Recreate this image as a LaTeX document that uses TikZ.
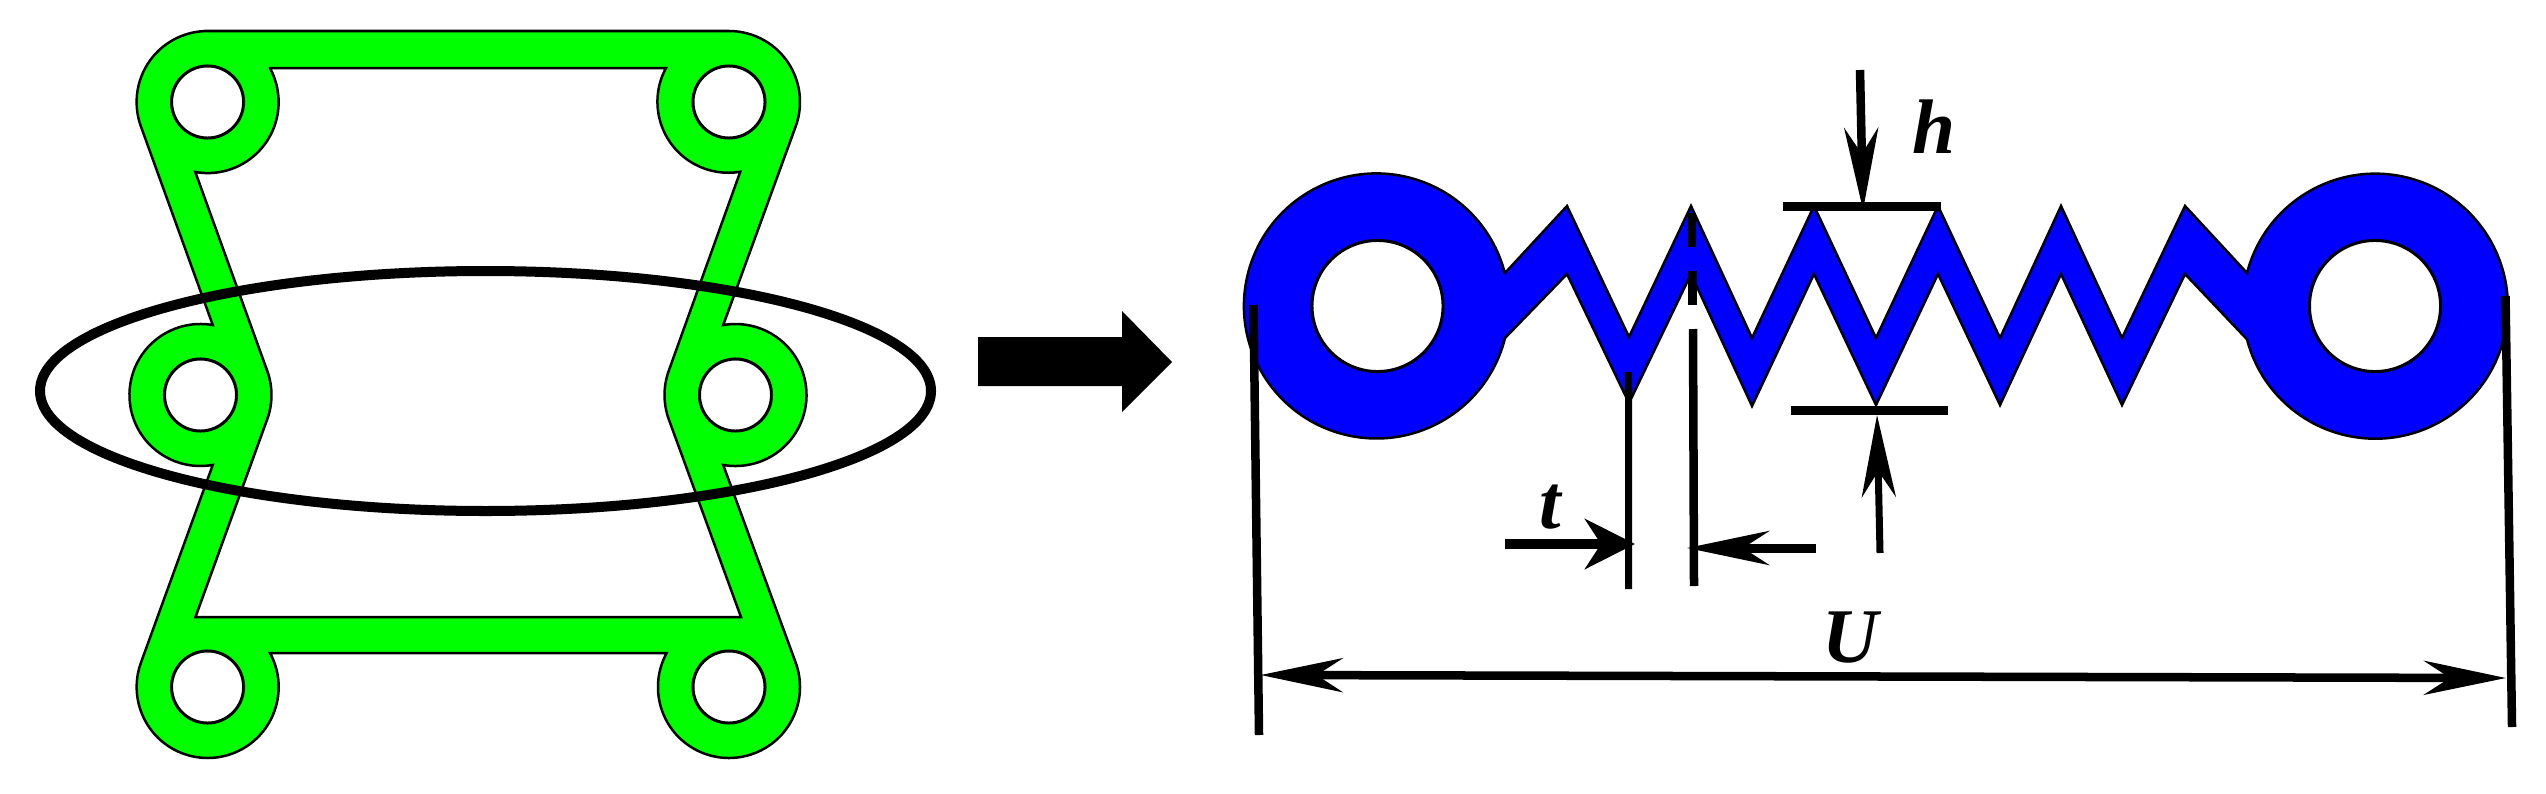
\documentclass[tikz,border=0pt]{standalone}
\usepackage{fontspec}
\setmainfont{Liberation Serif}
\usetikzlibrary{arrows.meta}

\definecolor{framegreen}{RGB}{0,255,0}
\definecolor{hingeblue}{RGB}{0,0,255}

\tikzset{
  outline/.style={draw=black, line width=0.025cm, line join=miter},
  hole/.style={circle, draw=black, fill=white, line width=0.03cm, inner sep=0pt},
  dimline/.style={line width=0.085cm},
  barb/.tip={Stealth[length=0.82cm, width=0.34cm, inset=0.26cm]},
  dimlabel/.style={font=\fontsize{22}{24}\selectfont\bfseries\itshape, inner sep=0pt}
}

\begin{document}
\begin{tikzpicture}[x=0.01cm, y=0.01cm]
    \useasboundingbox (0, 0) rectangle (2546, 793);

    % green frame
    \draw[outline, fill=framegreen] (207.6, 762) -- (729, 762) arc[start angle=90, end angle=-20, radius=71]
        -- (723.2, 467.9) arc[start angle=100, end angle=-100, radius=71]
        -- (795.7, 130.3) arc[start angle=20, end angle=-208.6, radius=71]
        -- (270, 140) arc[start angle=28.6, end angle=-200, radius=71]
        -- (212.8, 328.1) arc[start angle=-80, end angle=-280, radius=71]
        -- (140.9, 666.7) arc[start angle=200, end angle=90, radius=71] -- cycle;
    \draw[outline, fill=white] (270, 725) -- (666, 725) arc[start angle=151.6, end angle=279.6, radius=71]
        -- (668.8, 422.3) arc[start angle=160, end angle=200, radius=71]
        -- (741, 176) -- (195.5, 176) -- (267.2, 373.7) arc[start angle=-20, end angle=20, radius=71]
        -- (195.3, 621) arc[start angle=260, end angle=388.6, radius=71] -- cycle;

    \node[hole, minimum size=0.72cm] (holeTL) at (207.6, 691) {};
    \node[hole, minimum size=0.72cm] (holeTR) at (729, 691) {};
    \node[hole, minimum size=0.72cm] (holeML) at (200.5, 398) {};
    \node[hole, minimum size=0.72cm] (holeMR) at (735.5, 398) {};
    \node[hole, minimum size=0.72cm] (holeBL) at (207.6, 106) {};
    \node[hole, minimum size=0.72cm] (holeBR) at (729, 106) {};

    \draw[line width=0.1cm] (485.5, 402) ellipse[x radius=445.5, y radius=120];

    % big arrow
    \fill (978, 456) -- (1122, 456) -- (1122, 482) -- (1172, 431) -- (1122, 381) -- (1122, 407) -- (978, 407) -- cycle;

    % blue hinge
    \draw[outline, fill=hingeblue] (1505, 520) -- (1567, 587) -- (1629, 456) -- (1691, 587) -- (1752, 455) -- (1814, 587)
        -- (1876, 455) -- (1938, 587) -- (2000, 455) -- (2061, 587) -- (2122, 455) -- (2185, 587)
        -- (2247, 520) arc[start angle=165.5, end angle=-165.5, radius=132.5]
        -- (2185, 519) -- (2122, 388) -- (2061, 519) -- (2000, 388) -- (1938, 519) -- (1876, 388)
        -- (1814, 519) -- (1752, 387) -- (1691, 519) -- (1629, 390) -- (1567, 519)
        -- (1505, 455) arc[start angle=-14, end angle=-345.5, radius=132.5] -- cycle;

    \node[hole, minimum size=1.31cm] (holeL) at (1377.5, 487) {};
    \node[hole, minimum size=1.31cm] (holeR) at (2375, 487) {};

    % dimension points
    \coordinate (uLtop) at (1253.5, 488);
    \coordinate (uLbot) at (1259, 58);
    \coordinate (uRtop) at (2505.5, 497);
    \coordinate (uRbot) at (2512, 66);
    \coordinate (uL) at (1260.6, 118);
    \coordinate (uR) at (2506, 115);
    \coordinate (tAtop) at (1628.5, 421);
    \coordinate (tAbot) at (1628.6, 204);
    \coordinate (tBa) at (1692, 580);
    \coordinate (tBb) at (1692, 546);
    \coordinate (tBc) at (1692.5, 522);
    \coordinate (tBd) at (1692.5, 488);
    \coordinate (tBe) at (1693, 464);
    \coordinate (tBf) at (1694, 207);
    \coordinate (tAfrom) at (1505, 249);
    \coordinate (tAto) at (1635, 249);
    \coordinate (tBfrom) at (1816, 245);
    \coordinate (tBto) at (1687, 245);
    \coordinate (hTa) at (1783.4, 587);
    \coordinate (hTb) at (1941, 587);
    \coordinate (hBa) at (1790.5, 383);
    \coordinate (hBb) at (1947.6, 383);
    \coordinate (hTfrom) at (1860, 723);
    \coordinate (hTto) at (1863, 583);
    \coordinate (hBfrom) at (1880, 240);
    \coordinate (hBto) at (1877, 378);

    \draw[dimline] (uLtop) -- (uLbot);
    \draw[dimline] (uRtop) -- (uRbot);
    \draw[dimline, barb-barb] (uL) -- (uR);
    \draw[dimline, line width=0.07cm] (tAtop) -- (tAbot);
    \draw[dimline] (tBa) -- (tBb);
    \draw[dimline] (tBc) -- (tBd);
    \draw[dimline] (tBe) -- (tBf);
    \draw[dimline, line width=0.1cm, -{Stealth[length=0.5cm, width=0.5cm, inset=0.16cm]}] (tAfrom) -- (tAto);
    \draw[dimline, line width=0.09cm, -barb] (tBfrom) -- (tBto);
    \draw[dimline, line width=0.09cm] (hTa) -- (hTb);
    \draw[dimline, line width=0.09cm] (hBa) -- (hBb);
    \draw[dimline, -barb] (hTfrom) -- (hTto);
    \draw[dimline, line width=0.07cm, -barb] (hBfrom) -- (hBto);

    \node[dimlabel] (labelh) at (1934, 666) {h};
    \node[dimlabel] (labelt) at (1550, 286) {t};
    \node[dimlabel] (labelU) at (1850, 155) {U};
\end{tikzpicture}
\end{document}
